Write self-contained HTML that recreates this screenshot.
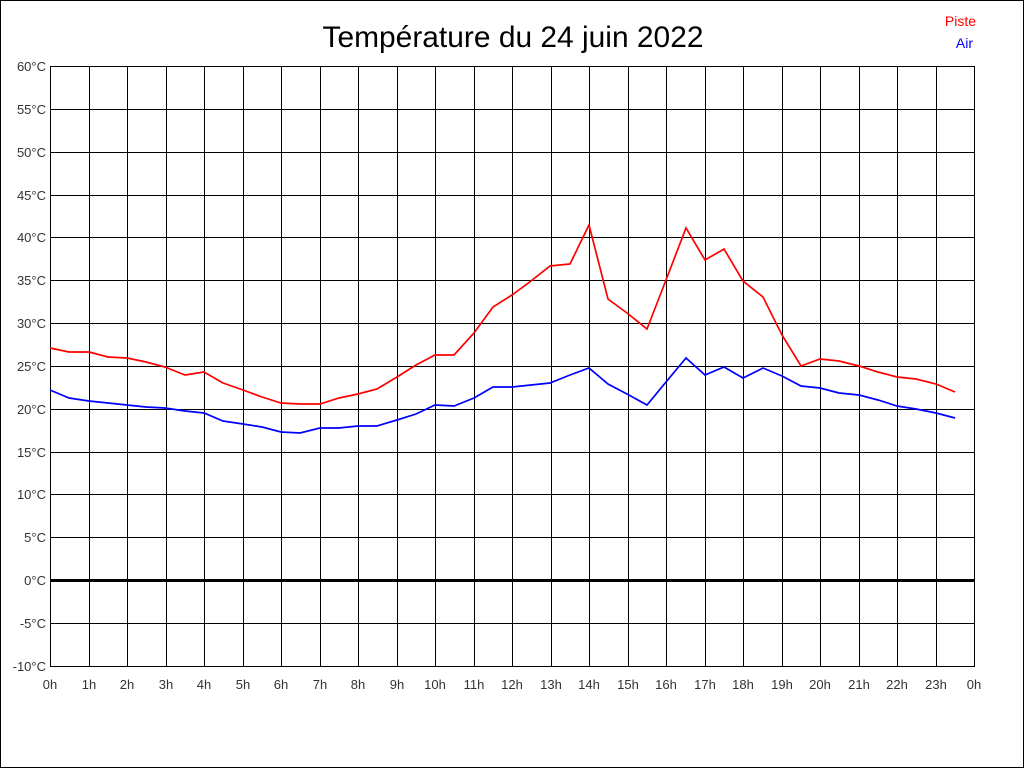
<!DOCTYPE html>
<html><head><meta charset="utf-8"><style>
html,body{margin:0;padding:0;background:#fff}
svg{display:block}
text{font-family:"Liberation Sans",Arial,sans-serif}
</style></head><body>
<svg width="1024" height="768" xmlns="http://www.w3.org/2000/svg">
<rect x="0.5" y="0.5" width="1023" height="767" fill="#fff" stroke="#000"/>
<text x="513" y="47" font-size="30" text-anchor="middle" fill="#000" textLength="381" lengthAdjust="spacingAndGlyphs">Température du 24 juin 2022</text>
<text x="976" y="26" font-size="14" text-anchor="end" fill="#f00">Piste</text>
<text x="973" y="48" font-size="14" text-anchor="end" fill="#00f">Air</text>
<path stroke="#000" stroke-width="1" fill="none" d="
M50.5 66V666 M89.5 66V666 M127.5 66V666 M166.5 66V666 M204.5 66V666 M243.5 66V666 M281.5 66V666 M320.5 66V666 M358.5 66V666 M397.5 66V666 M435.5 66V666 M474.5 66V666 M512.5 66V666 M551.5 66V666 M589.5 66V666 M628.5 66V666 M666.5 66V666 M705.5 66V666 M743.5 66V666 M782.5 66V666 M820.5 66V666 M859.5 66V666 M897.5 66V666 M936.5 66V666 M974.5 66V666
M50 66.5H975 M50 109.5H975 M50 152.5H975 M50 195.5H975 M50 237.5H975 M50 280.5H975 M50 323.5H975 M50 366.5H975 M50 409.5H975 M50 452.5H975 M50 494.5H975 M50 537.5H975 M50 623.5H975 M50 666.5H975"/>
<rect x="50" y="579" width="925" height="3" fill="#000"/>
<g font-size="13" fill="#333" text-anchor="end">
<text x="46" y="71">60°C</text><text x="46" y="114">55°C</text><text x="46" y="157">50°C</text><text x="46" y="200">45°C</text><text x="46" y="242">40°C</text><text x="46" y="285">35°C</text><text x="46" y="328">30°C</text><text x="46" y="371">25°C</text><text x="46" y="414">20°C</text><text x="46" y="457">15°C</text><text x="46" y="499">10°C</text><text x="46" y="542">5°C</text><text x="46" y="585">0°C</text><text x="46" y="628">-5°C</text><text x="46" y="671">-10°C</text>
</g>
<g font-size="13" fill="#333" text-anchor="middle">
<text x="50" y="689">0h</text><text x="89" y="689">1h</text><text x="127" y="689">2h</text><text x="166" y="689">3h</text><text x="204" y="689">4h</text><text x="243" y="689">5h</text><text x="281" y="689">6h</text><text x="320" y="689">7h</text><text x="358" y="689">8h</text><text x="397" y="689">9h</text><text x="435" y="689">10h</text><text x="474" y="689">11h</text><text x="512" y="689">12h</text><text x="551" y="689">13h</text><text x="589" y="689">14h</text><text x="628" y="689">15h</text><text x="666" y="689">16h</text><text x="705" y="689">17h</text><text x="743" y="689">18h</text><text x="782" y="689">19h</text><text x="820" y="689">20h</text><text x="859" y="689">21h</text><text x="897" y="689">22h</text><text x="936" y="689">23h</text><text x="974" y="689">0h</text>
</g>
<polyline fill="none" stroke="#f00" stroke-width="1.7" points="50,348 69,352 89,352 108,357 127,358 146,362 165,367 185,375 204,372 223,383 243,390 262,397 281,403 300,404 320,404 339,398 358,394 377,389 397,377 416,365 435,355 454,355 474,333 493,307 512,295 531,281 550,266 570,264 589,225 608,299 627,313 647,329 666,280 686,228 705,260 724,249 743,281 763,297 782,335 801,366 820,359 839,361 859,366 878,372 897,377 916,379 936,384 955,392"/>
<polyline fill="none" stroke="#00f" stroke-width="1.7" points="50,390 69,398 89,401 108,403 127,405 146,407 165,408 185,411 204,413 223,421 243,424 262,427 281,432 300,433 320,428 339,428 358,426 377,426 397,420 416,414 435,405 454,406 474,398 493,387 512,387 531,385 550,383 570,375 589,368 608,384 627,394 647,405 666,382 686,358 705,375 724,367 743,378 763,368 782,376 801,386 820,388 839,393 859,395 878,400 897,406 916,409 936,413 955,418"/>
</svg>
</body></html>
